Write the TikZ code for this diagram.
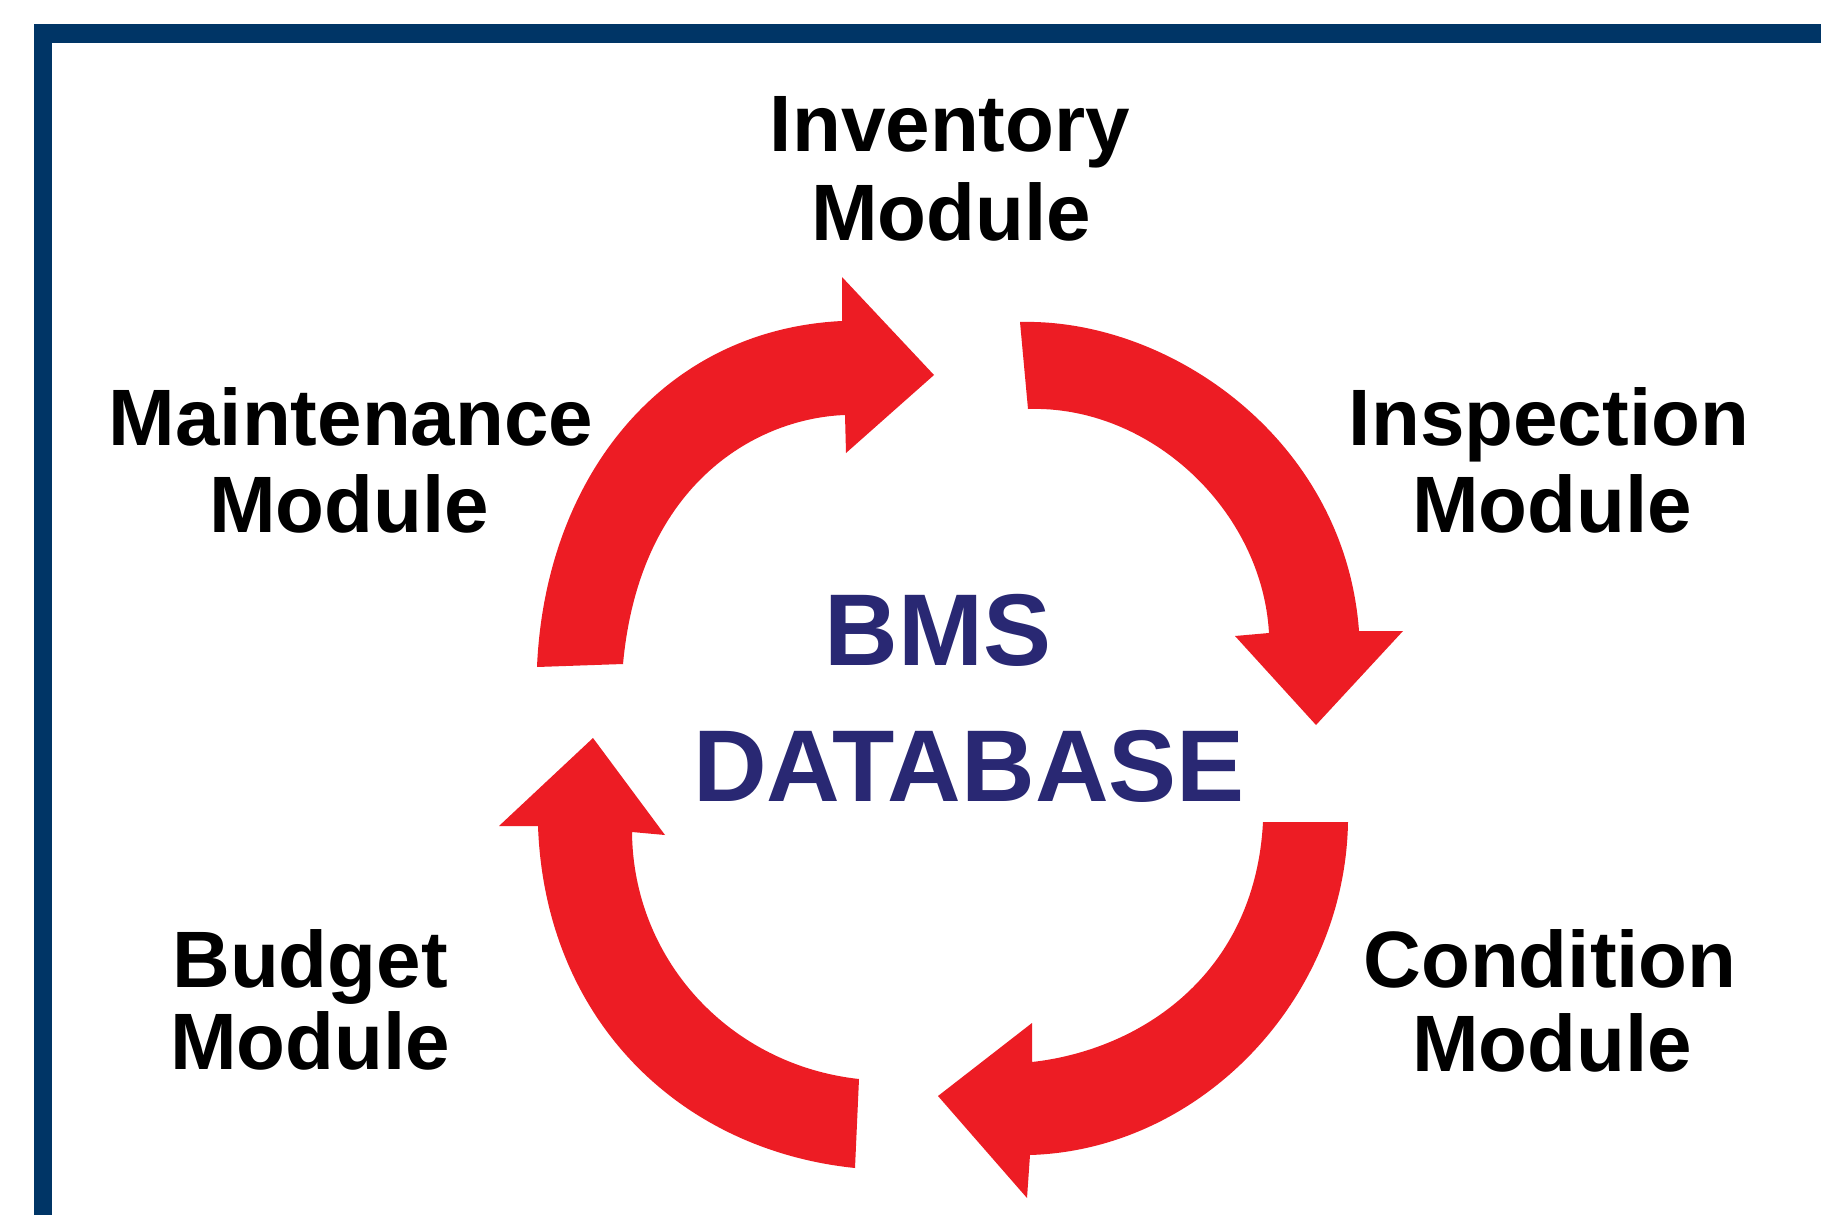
\documentclass[tikz,border=0pt]{standalone}
\usepackage{fontspec}
\setmainfont{Liberation Sans}
\definecolor{navy}{RGB}{0,53,102}
\definecolor{arrowred}{RGB}{237,28,36}
\definecolor{dbblue}{RGB}{41,40,115}
\begin{document}
\begin{tikzpicture}[x=1pt,y=-1pt,
  modlabel/.style={font=\fontsize{80}{88}\selectfont\bfseries, text=black, inner sep=0pt, anchor=base},
  dbtext/.style={font=\fontsize{102}{112}\selectfont\bfseries, text=dbblue, inner sep=0pt, anchor=base},
  cyclearrow/.style={fill=arrowred}]
\useasboundingbox (0,0) rectangle (1821,1215);
\clip (0,0) rectangle (1821,1215);
\fill[white] (0,0) rectangle (1821,1215);
% frame (only top and left edges visible)
\fill[navy] (34,24) rectangle (1840,43);
\fill[navy] (34,24) rectangle (52,1240);

% module labels
\node[modlabel] (inv1) at (950,151) {Inventory};
\node[modlabel] (inv2) at (951,240) {Module};
\node[modlabel] (mnt1) at (351,445) {Maintenance};
\node[modlabel] (mnt2) at (349,532) {Module};
\node[modlabel] (ins1) at (1549,445) {Inspection};
\node[modlabel] (ins2) at (1552,532) {Module};
\node[modlabel] (bud1) at (310,987) {Budget};
\node[modlabel] (bud2) at (310,1069) {Module};
\node[modlabel] (con1) at (1550,987) {Condition};
\node[modlabel] (con2) at (1552,1071) {Module};

% centre text
\node[dbtext] (bms) at (938,665) {BMS};
\node[dbtext] (dbase) at (969,801) {DATABASE};

% top-left arrow (Maintenance -> Inventory)
\fill[cyclearrow] (537,667) .. controls (545,480) and (660,330) .. (842,321)
  -- (842,277) -- (934,375) -- (846,453) -- (845,415)
  .. controls (760,418) and (640,480) .. (623,664) -- cycle;

% top-right arrow (Inventory -> Inspection)
\fill[cyclearrow] (1020,322) .. controls (1170,318) and (1345,440) .. (1359,631)
  -- (1403,631) -- (1316,725) -- (1235,636) -- (1269,633)
  .. controls (1262,510) and (1150,405) .. (1028,409) -- cycle;

% bottom-right arrow (Condition -> Budget)
\fill[cyclearrow] (1348,822) .. controls (1345,1000) and (1200,1150) .. (1030,1155)
  -- (1027,1198) -- (938,1096) -- (1032,1023) -- (1032,1062)
  .. controls (1140,1050) and (1255,975) .. (1263,822) -- cycle;

% bottom-left arrow (Budget -> Maintenance)
\fill[cyclearrow] (855,1168) .. controls (680,1150) and (545,1020) .. (538,826)
  -- (499,826) -- (593,738) -- (665,835) -- (632,832)
  .. controls (633,960) and (730,1065) .. (859,1079) -- cycle;
\end{tikzpicture}
\end{document}
